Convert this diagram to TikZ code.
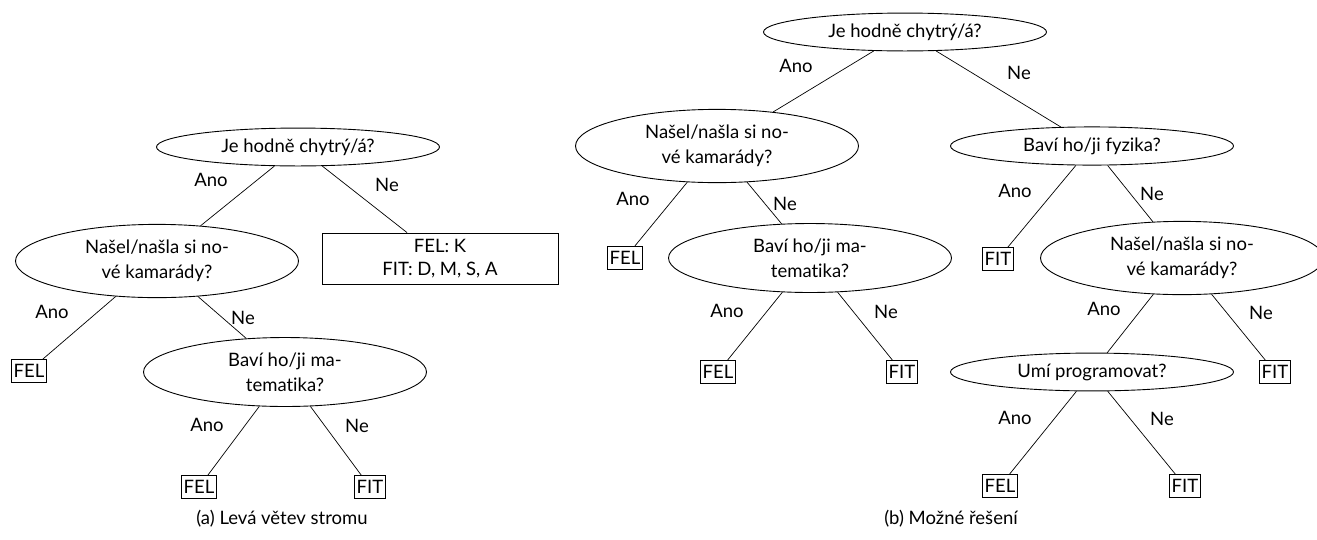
\documentclass[tikz,border=0pt]{standalone}
\usepackage{fontspec}
\setmainfont{Lato}[Ligatures=NoCommon]
\usetikzlibrary{shapes.geometric}
\begin{document}
\begin{tikzpicture}[x=1pt,y=-1pt,
  every node/.style={font=\fontsize{18.5}{25}\selectfont},
  q/.style={draw, ellipse, line width=0.9pt, minimum width=283pt, inner ysep=5pt, align=center},
  leaf/.style={draw, line width=0.8pt, inner xsep=2.5pt, inner ysep=0pt, minimum height=23pt},
  bigbox/.style={draw, line width=0.8pt, minimum width=236pt, minimum height=51pt, align=center, font=\fontsize{18.5}{23.3}\selectfont},
  lbl/.style={inner sep=0pt},
  edge/.style={line width=0.7pt}]
\useasboundingbox (0,0) rectangle (1317,539);
% ---------- left tree ----------
\node[q] (LA) at (298,147) {Je hodně chytrý/á?};
\node[q] (LB) at (157,261) {Našel/našla si no-\\vé kamarády?};
\node[bigbox] (LC) at (440,258.5) {FEL: K\\FIT: D, M, S, A};
\node[leaf] (LD) at (29,371) {FEL};
\node[q] (LE) at (285,372) {Baví ho/ji ma-\\tematika?};
\node[leaf] (LF) at (199,487) {FEL};
\node[leaf] (LG) at (370,487) {FIT};
\draw[edge] (LA) -- (LB);
\draw[edge] (LA) -- (LC);
\draw[edge] (LB) -- (LD);
\draw[edge] (LB) -- (LE);
\draw[edge] (LE) -- (LF);
\draw[edge] (LE) -- (LG);
\node[lbl] (la1) at (211,180) {Ano};
\node[lbl] (ln1) at (387,185) {Ne};
\node[lbl] (la2) at (52,312) {Ano};
\node[lbl] (ln2) at (243,318) {Ne};
\node[lbl] (la3) at (207,425) {Ano};
\node[lbl] (ln3) at (357,426) {Ne};
\node (capa) at (282,519) {(a) Levá větev stromu};
% ---------- right tree ----------
\node[q] (RA) at (905,32) {Je hodně chytrý/á?};
\node[q] (RB) at (717,146) {Našel/našla si no-\\vé kamarády?};
\node[q] (RC) at (1092,146) {Baví ho/ji fyzika?};
\node[leaf] (RD) at (625,258) {FEL};
\node[q] (RE) at (810,258) {Baví ho/ji ma-\\tematika?};
\node[leaf] (RF) at (718,372) {FEL};
\node[leaf] (RG) at (902,372) {FIT};
\node[leaf] (RH) at (998,259) {FIT};
\node[q] (RI) at (1182,258) {Našel/našla si no-\\vé kamarády?};
\node[q] (RJ) at (1092,372) {Umí programovat?};
\node[leaf] (RK) at (1275,372) {FIT};
\node[leaf] (RL) at (1000,486) {FEL};
\node[leaf] (RM) at (1185,486) {FIT};
\draw[edge] (RA) -- (RB);
\draw[edge] (RA) -- (RC);
\draw[edge] (RB) -- (RD);
\draw[edge] (RB) -- (RE);
\draw[edge] (RE) -- (RF);
\draw[edge] (RE) -- (RG);
\draw[edge] (RC) -- (RH);
\draw[edge] (RC) -- (RI);
\draw[edge] (RI) -- (RJ);
\draw[edge] (RI) -- (RK);
\draw[edge] (RJ) -- (RL);
\draw[edge] (RJ) -- (RM);
\node[lbl] (ra1) at (796,66) {Ano};
\node[lbl] (rn1) at (1019,73) {Ne};
\node[lbl] (ra2) at (633,199) {Ano};
\node[lbl] (rn2) at (785,204) {Ne};
\node[lbl] (ra3) at (727,311) {Ano};
\node[lbl] (rn3) at (886,312) {Ne};
\node[lbl] (ra4) at (1015,191) {Ano};
\node[lbl] (rn4) at (1152,194) {Ne};
\node[lbl] (ra5) at (1104,309) {Ano};
\node[lbl] (rn5) at (1261,313) {Ne};
\node[lbl] (ra6) at (1015,418) {Ano};
\node[lbl] (rn6) at (1162,419) {Ne};
\node (capb) at (951,519) {(b) Možné řešení};
\end{tikzpicture}
\end{document}
